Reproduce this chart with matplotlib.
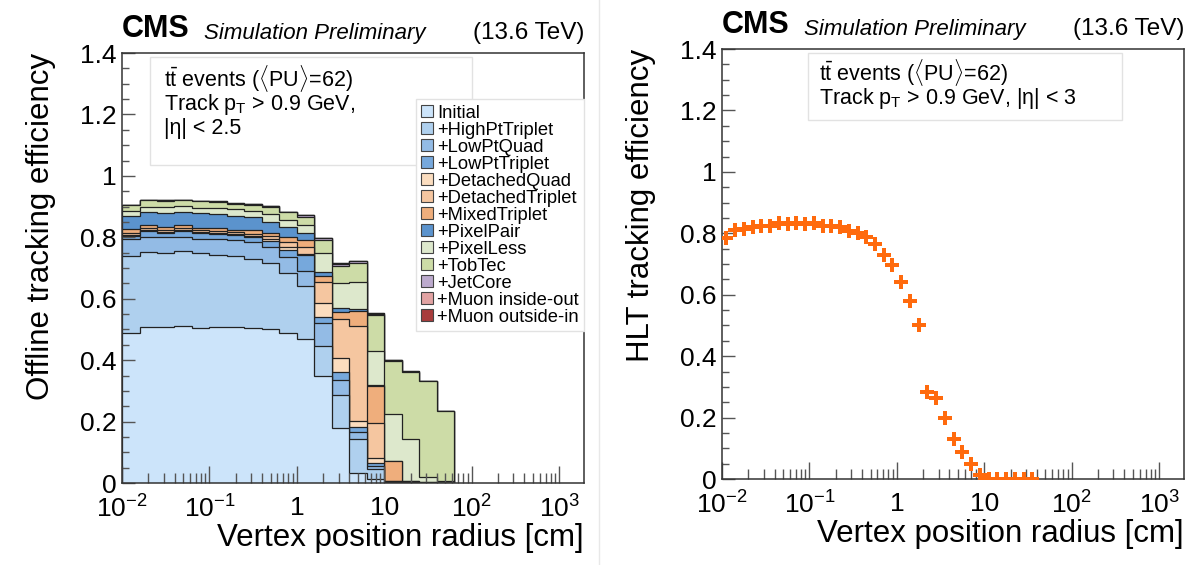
import matplotlib
matplotlib.use("Agg")
import matplotlib.pyplot as plt
import numpy as np
from matplotlib.patches import Patch, Rectangle
from matplotlib.ticker import FixedLocator, LogLocator, MultipleLocator, FixedFormatter, FormatStrFormatter

plt.rcParams['font.family'] = ['Liberation Sans', 'DejaVu Sans']
plt.rcParams['mathtext.fontset'] = 'custom'
plt.rcParams['mathtext.rm'] = 'Liberation Sans'
plt.rcParams['mathtext.it'] = 'Liberation Sans:italic'
plt.rcParams['mathtext.bf'] = 'Liberation Sans:bold'

# ---- left panel: cumulative offline efficiency after each iteration ----
# bins of 0.2 in log10(r), from 1e-2 cm up to ~63 cm
log_edges_off = [-2.0, -1.8, -1.6, -1.4, -1.2, -1.0, -0.8, -0.6, -0.4, -0.2,
                 0.0, 0.2, 0.4, 0.6, 0.8, 1.0, 1.2, 1.4, 1.6, 1.8]

iter_names = ["Initial", "+HighPtTriplet", "+LowPtQuad", "+LowPtTriplet",
              "+DetachedQuad", "+DetachedTriplet", "+MixedTriplet", "+PixelPair",
              "+PixelLess", "+TobTec", "+JetCore", "+Muon inside-out",
              "+Muon outside-in"]
iter_colors = ["#cce4fa", "#afd0ee", "#93bbe5", "#76a8dc", "#fbddbf", "#f5c6a0",
               "#efae7c", "#5b93cd", "#dde8cc", "#cddca7", "#bcaacd", "#e2a3a3",
               "#a83c3c"]

eff_initial = [0.490, 0.507, 0.507, 0.511, 0.505, 0.507, 0.507, 0.505, 0.502, 0.490,
               0.469, 0.348, 0.178, 0.031, 0.013, 0.001, 0.0, 0.0, 0.0]
eff_highpt = [0.740, 0.753, 0.750, 0.754, 0.750, 0.744, 0.739, 0.731, 0.717, 0.685,
              0.640, 0.447, 0.288, 0.143, 0.045, 0.002, 0.0, 0.0, 0.0]
eff_lowptquad = [0.795, 0.802, 0.800, 0.802, 0.796, 0.793, 0.790, 0.785, 0.769, 0.737,
                 0.690, 0.521, 0.334, 0.166, 0.055, 0.003, 0.0, 0.0, 0.0]
eff_lowpttriplet = [0.805, 0.822, 0.815, 0.820, 0.815, 0.812, 0.806, 0.800, 0.788, 0.760,
                    0.742, 0.539, 0.363, 0.181, 0.065, 0.004, 0.001, 0.0, 0.0]
eff_detachedquad = [0.808, 0.825, 0.818, 0.824, 0.818, 0.815, 0.810, 0.804, 0.795, 0.768,
                    0.746, 0.586, 0.406, 0.202, 0.080, 0.005, 0.001, 0.0, 0.0]
eff_detachedtriplet = [0.815, 0.830, 0.823, 0.830, 0.824, 0.821, 0.816, 0.812, 0.805, 0.785,
                       0.770, 0.656, 0.533, 0.512, 0.196, 0.008, 0.002, 0.001, 0.0]
eff_mixedtriplet = [0.826, 0.840, 0.833, 0.839, 0.831, 0.829, 0.825, 0.823, 0.815, 0.800,
                    0.791, 0.675, 0.557, 0.559, 0.315, 0.072, 0.005, 0.002, 0.001]
eff_pixelpair = [0.868, 0.882, 0.880, 0.883, 0.879, 0.877, 0.871, 0.866, 0.850, 0.832,
                 0.815, 0.688, 0.571, 0.566, 0.320, 0.073, 0.006, 0.003, 0.001]
eff_pixelless = [0.886, 0.900, 0.899, 0.901, 0.897, 0.895, 0.891, 0.885, 0.875, 0.855,
                 0.840, 0.748, 0.650, 0.653, 0.429, 0.224, 0.143, 0.018, 0.005]
eff_tobtec = [0.904, 0.920, 0.919, 0.920, 0.917, 0.915, 0.909, 0.906, 0.900, 0.882,
              0.866, 0.792, 0.708, 0.717, 0.547, 0.398, 0.362, 0.331, 0.233]
eff_jetcore = [0.905, 0.921, 0.920, 0.921, 0.918, 0.916, 0.910, 0.907, 0.901, 0.883,
               0.872, 0.797, 0.714, 0.722, 0.551, 0.401, 0.363, 0.332, 0.234]
eff_muon_io = [0.906, 0.922, 0.921, 0.922, 0.919, 0.917, 0.911, 0.908, 0.902, 0.884,
               0.873, 0.798, 0.715, 0.723, 0.552, 0.402, 0.364, 0.332, 0.234]
eff_muon_oi = [0.906, 0.922, 0.921, 0.922, 0.919, 0.917, 0.911, 0.908, 0.902, 0.884,
               0.874, 0.799, 0.716, 0.723, 0.553, 0.402, 0.364, 0.333, 0.234]

eff_stack = [eff_initial, eff_highpt, eff_lowptquad, eff_lowpttriplet, eff_detachedquad,
             eff_detachedtriplet, eff_mixedtriplet, eff_pixelpair, eff_pixelless,
             eff_tobtec, eff_jetcore, eff_muon_io, eff_muon_oi]

# ---- right panel: HLT efficiency, bins of 0.1 in log10(r) from 1e-2 cm ----
hlt_log_lo = -2.0
hlt_log_step = 0.1
hlt_eff = [0.786, 0.811, 0.813, 0.820, 0.825, 0.824, 0.833, 0.831, 0.833, 0.830,
           0.833, 0.825, 0.825, 0.822, 0.809, 0.802, 0.789, 0.766, 0.730, 0.697,
           0.643, 0.580, 0.500, 0.284, 0.265, 0.200, 0.129, 0.089, 0.049, 0.013,
           0.0, 0.0, 0.0, 0.0, 0.0, 0.0]

xticks = [1e-2, 1e-1, 1, 10, 1e2, 1e3]
xtick_labels = [r"$10^{-2}$", r"$10^{-1}$", "1", "10", r"$10^{2}$", r"$10^{3}$"]

label_sample = r"$\mathrm{t\bar{t}}$ events ($\langle$PU$\rangle$=62)"

fig = plt.figure(figsize=(12, 5.65), dpi=100)
ax1 = fig.add_axes([0.1017, 0.1451, 0.385, 0.761])
ax2 = fig.add_axes([0.6017, 0.1522, 0.385, 0.761])


def style_axis(ax, ylabel):
    ax.set_xscale('log')
    ax.set_xlim(1e-2, 1930)
    ax.set_ylim(0, 1.4)
    ax.xaxis.set_major_locator(FixedLocator(xticks))
    ax.xaxis.set_major_formatter(FixedFormatter(xtick_labels))
    ax.xaxis.set_minor_locator(LogLocator(base=10, subs=np.arange(2, 10)))
    ax.yaxis.set_major_locator(MultipleLocator(0.2))
    ax.yaxis.set_minor_locator(MultipleLocator(0.05))
    ax.yaxis.set_major_formatter(FormatStrFormatter('%g'))
    ax.tick_params(axis='both', which='both', direction='in', labelsize=19,
                   color='#555555', width=1)
    ax.tick_params(axis='x', which='major', length=12, pad=9)
    ax.tick_params(axis='x', which='minor', length=7)
    ax.tick_params(axis='y', which='major', length=9, pad=4)
    ax.tick_params(axis='y', which='minor', length=5)
    for s in ax.spines.values():
        s.set_color('#333333')
        s.set_linewidth(1.1)
    ax.set_xlabel("Vertex position radius [cm]", fontsize=22.5, loc='right', labelpad=0)
    ax.set_ylabel(ylabel, fontsize=22.5, loc='top', labelpad=17)
    ax.text(0.0, 1.02, "CMS", transform=ax.transAxes, fontsize=22,
            fontweight='bold', ha='left', va='bottom')
    ax.text(0.177, 1.02, "Simulation Preliminary", transform=ax.transAxes,
            fontsize=16, style='italic', ha='left', va='bottom')
    ax.text(1.0, 1.02, "(13.6 TeV)", transform=ax.transAxes, fontsize=17.5,
            ha='right', va='bottom')


# stacked cumulative histograms, largest first so smaller ones sit on top
edges_off = 10 ** np.array(log_edges_off)
for vals, col in reversed(list(zip(eff_stack, iter_colors))):
    ax1.stairs(vals, edges_off, baseline=0, fill=True, facecolor=col,
               edgecolor='#222222', linewidth=0.9)

style_axis(ax1, "Offline tracking efficiency")

ax1.add_patch(Rectangle((0.061, 0.74), 0.697, 0.25, transform=ax1.transAxes,
                        facecolor='none', edgecolor='#e2e2e2', linewidth=1, zorder=3))
ax1.text(0.09, 0.94, label_sample, transform=ax1.transAxes,
         fontsize=15.5, va='center', zorder=4)
ax1.text(0.09, 0.88, r"Track p$_\mathrm{T}$ > 0.9 GeV,", transform=ax1.transAxes,
         fontsize=15.5, va='center', zorder=4)
ax1.text(0.09, 0.825, "|η| < 2.5", transform=ax1.transAxes,
         fontsize=15.5, va='center', zorder=4)

handles = [Patch(facecolor=c, edgecolor='#444444', linewidth=0.8) for c in iter_colors]
leg = ax1.legend(handles, iter_names, loc='upper right', bbox_to_anchor=(1.0, 0.893),
                 fontsize=13.2, frameon=True, fancybox=False, framealpha=1,
                 edgecolor='#e2e2e2', labelspacing=0.0, handlelength=0.65,
                 handleheight=0.65, handletextpad=0.2, borderpad=0.3,
                 borderaxespad=0.0)
leg.get_frame().set_linewidth(1)
leg.set_zorder(5)

# ---- right panel ----
hlt_lo = 10 ** (hlt_log_lo + hlt_log_step * np.arange(len(hlt_eff)))
hlt_hi = 10 ** (hlt_log_lo + hlt_log_step * (np.arange(len(hlt_eff)) + 1))
hlt_x = np.sqrt(hlt_lo * hlt_hi)
ax2.errorbar(hlt_x, hlt_eff, xerr=[hlt_x - hlt_lo, hlt_hi - hlt_x], fmt='P',
             color='#ff6a0d', markersize=10, markeredgewidth=0, elinewidth=1.8,
             capsize=0, zorder=3)

style_axis(ax2, "HLT tracking efficiency")
ax2.add_patch(Rectangle((0.186, 0.835), 0.68, 0.155, transform=ax2.transAxes,
                        facecolor='none', edgecolor='#e2e2e2', linewidth=1, zorder=3))
ax2.text(0.21, 0.945, label_sample, transform=ax2.transAxes,
         fontsize=15.5, va='center')
ax2.text(0.21, 0.885, r"Track p$_\mathrm{T}$ > 0.9 GeV, |η| < 3", transform=ax2.transAxes,
         fontsize=15.5, va='center')

fig.add_artist(plt.Line2D([0.499, 0.499], [0.0, 1.0], transform=fig.transFigure,
                          color='#e8e8e8', linewidth=1))

fig.savefig("out.png", dpi=100)
